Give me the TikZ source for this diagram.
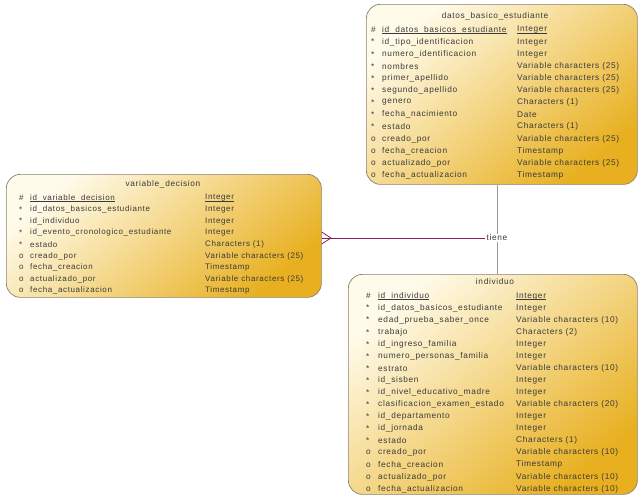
\documentclass[tikz,border=0pt]{standalone}
\usepackage{fontspec}
\setmainfont{Liberation Sans}[LetterSpace=8]
\definecolor{boxlight}{HTML}{FFFBEA}
\definecolor{boxdark}{HTML}{E8B020}
\definecolor{boxline}{HTML}{8C8070}
\definecolor{txt}{HTML}{3A3A3A}
\definecolor{relcol}{HTML}{8A2062}
\definecolor{linkgray}{HTML}{9A9A9A}
\newcommand\pkline[1]{\setbox0=\hbox{#1}\rlap{\rule[-1.4pt]{\wd0}{0.5pt}}\box0}
\tikzset{
  tbl/.style={rounded corners=14pt, draw=boxline, line width=0.7pt,
    top color=boxlight, bottom color=boxdark, shading angle=40,
    anchor=north west, inner sep=0pt},
  cell/.style={font=\fontsize{8.3}{9}\selectfont, text=txt, inner sep=0pt, anchor=west},
  vcell/.style={font=\fontsize{8}{9}\selectfont, text=txt, inner sep=0pt, anchor=west},
  ttl/.style={font=\fontsize{8.3}{9}\selectfont, text=txt, inner sep=0pt},
  rel/.style={draw=relcol, line width=0.8pt},
  lnk/.style={draw=linkgray, line width=0.9pt},
}
\begin{document}
\catcode`\_=12
\begin{tikzpicture}[x=1pt,y=-1pt]
\useasboundingbox[fill=white] (0,0) rectangle (642,496);

% ---------- datos_basico_estudiante ----------
\node[tbl, minimum width=271pt, minimum height=180pt] (datos) at (366,4) {};
\node[ttl] (datos-t) at (495,16) {datos_basico_estudiante};
\foreach \m/\n/\t [count=\i from 0] in {
  \#/\pkline{id_datos_basicos_estudiante}/\pkline{Integer},
  */id_tipo_identificacion/Integer,
  */numero_identificacion/Integer,
  */nombres/Variable characters (25),
  */primer_apellido/Variable characters (25),
  */segundo_apellido/Variable characters (25),
  */genero/Characters (1),
  */fecha_nacimiento/Date,
  */estado/Characters (1),
  o/creado_por/Variable characters (25),
  o/fecha_creacion/Timestamp,
  o/actualizado_por/Variable characters (25),
  o/fecha_actualizacion/Timestamp}{
  \node[cell] (datos-m\i) at (371,{30+\i*12.1}) {\m};
  \node[cell] (datos-n\i) at (382,{30+\i*12.1}) {\n};
  \node[cell] (datos-y\i) at (517,{30+\i*12.1}) {\t};
}

% ---------- variable_decision ----------
\node[tbl, minimum width=315pt, minimum height=123pt] (vd) at (6,174) {};
\node[ttl] (vd-t) at (163,184) {variable_decision};
\foreach \m/\n/\t [count=\i from 0] in {
  \#/\pkline{id_variable_decision}/\pkline{Integer},
  */id_datos_basicos_estudiante/Integer,
  */id_individuo/Integer,
  */id_evento_cronologico_estudiante/Integer,
  */estado/Characters (1),
  o/creado_por/Variable characters (25),
  o/fecha_creacion/Timestamp,
  o/actualizado_por/Variable characters (25),
  o/fecha_actualizacion/Timestamp}{
  \node[vcell] (vd-m\i) at (19,{198+\i*11.6}) {\m};
  \node[vcell] (vd-n\i) at (30,{198+\i*11.6}) {\n};
  \node[vcell] (vd-y\i) at (205,{198+\i*11.6}) {\t};
}

% ---------- individuo ----------
\node[tbl, minimum width=289pt, minimum height=220pt] (ind) at (348,274) {};
\node[ttl] (ind-t) at (495,282) {individuo};
\foreach \m/\n/\t [count=\i from 0] in {
  \#/\pkline{id_individuo}/\pkline{Integer},
  */id_datos_basicos_estudiante/Integer,
  */edad_prueba_saber_once/Variable characters (10),
  */trabajo/Characters (2),
  */id_ingreso_familia/Integer,
  */numero_personas_familia/Integer,
  */estrato/Variable characters (10),
  */id_sisben/Integer,
  */id_nivel_educativo_madre/Integer,
  */clasificacion_examen_estado/Variable characters (20),
  */id_departamento/Integer,
  */id_jornada/Integer,
  */estado/Characters (1),
  o/creado_por/Variable characters (10),
  o/fecha_creacion/Timestamp,
  o/actualizado_por/Variable characters (10),
  o/fecha_actualizacion/Variable characters (10)}{
  \node[cell] (ind-m\i) at (366,{296+\i*12.06}) {\m};
  \node[cell] (ind-n\i) at (378,{296+\i*12.06}) {\n};
  \node[cell] (ind-y\i) at (516,{296+\i*12.06}) {\t};
}

% ---------- relationship ----------
\node[font=\fontsize{8.3}{9}\selectfont, text=txt, fill=white, inner sep=1pt] (tiene) at (497,238) {tiene};
\coordinate (cf) at (331,238);
\draw[lnk] (datos.south -| tiene) -- (tiene.north);
\draw[lnk] (tiene.south) -- (ind.north -| tiene);
\draw[rel] (cf) -- (tiene.west);
\draw[rel] (vd.east |- cf) ++(0,-6) -- (cf);
\draw[rel] (vd.east |- cf) -- (cf);
\draw[rel] (vd.east |- cf) ++(0,6) -- (cf);
\end{tikzpicture}
\end{document}
